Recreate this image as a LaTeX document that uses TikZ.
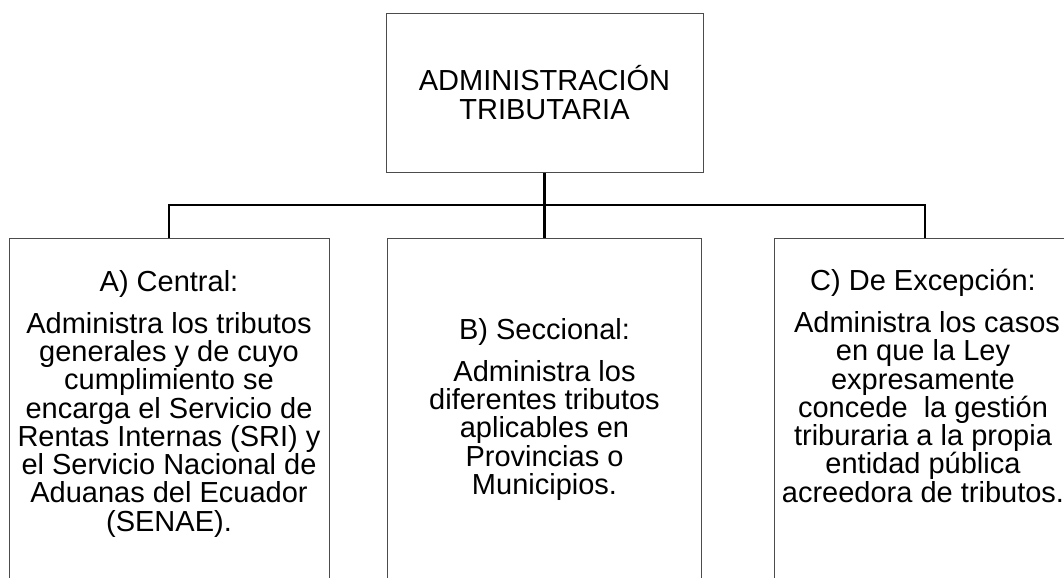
\documentclass[tikz,border=0pt]{standalone}
\usepackage{fontspec}
\setmainfont{Liberation Sans}
\usetikzlibrary{positioning}
\setlength{\lineskiplimit}{-50pt}

\begin{document}
\begin{tikzpicture}[x=0.75pt, y=-0.75pt,
    root/.style = {draw=black!70, line width=0.75pt, align=center, minimum width=237.75pt, minimum height=119.25pt, font=\fontsize{21.75pt}{22pt}\selectfont},
    branch/.style = {draw=black!70, line width=0.75pt, anchor=north, minimum height=300pt},
    body/.style = {align=center, anchor=north, inner sep=0pt, font=\fontsize{21.75pt}{21.2pt}\selectfont},
    link/.style = {draw=black, line width=2pt}]
    \useasboundingbox (0,0) rectangle (1064,578);
    \clip (0,0) rectangle (1064,578);

    \node[root] (admin) at (544.5,92.5) {ADMINISTRACIÓN\\TRIBUTARIA};

    \node[branch, minimum width=240pt] (central) at (169,238) {};
    \node[branch, minimum width=235.5pt] (seccional) at (544.5,238) {};
    \node[branch, minimum width=226.5pt] (excepcion) at (925,238) {};

    \node[body] (centraltxt) at (169,270) {A) Central:\\[10.3pt]
        Administra los tributos\\generales y de cuyo\\cumplimiento se\\encarga el Servicio de\\
        Rentas Internas (SRI) y\\el Servicio Nacional de\\Aduanas del Ecuador\\(SENAE).};
    \node[body] (secciontxt) at (544.5,318) {B) Seccional:\\[10.3pt]
        Administra los\\diferentes tributos\\aplicables en\\Provincias o\\Municipios.};
    \node[body] (excepciontxt) at (923,269) {C) De Excepción:\\[10.3pt]
        \ Administra los casos\\en que la Ley\\expresamente\\concede\ \ la gestión\\
        triburaria a la propia\\entidad pública\\acreedora de tributos.};

    \coordinate (bus) at (admin.south |- 0,205);

    \draw[link] (admin.south) -- (bus);
    \draw[link] (central.north) -- (central.north |- bus) -- (excepcion.north |- bus) -- (excepcion.north);
    \draw[link] (bus) -- (seccional.north);
\end{tikzpicture}
\end{document}
